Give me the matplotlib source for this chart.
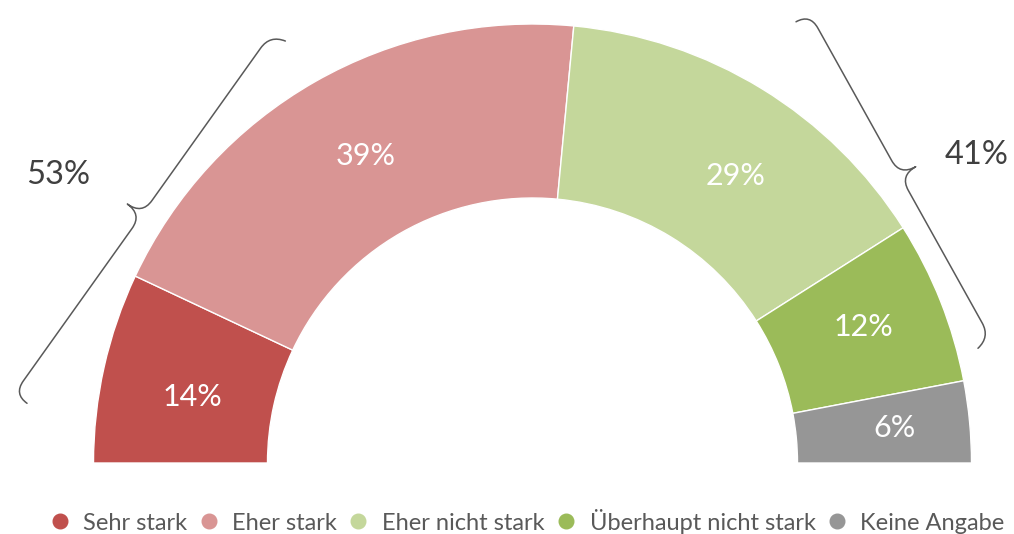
import numpy as np
import matplotlib
matplotlib.use("Agg")
import matplotlib.pyplot as plt
from matplotlib.patches import Wedge, PathPatch
from matplotlib.path import Path
from matplotlib.lines import Line2D

plt.rcParams['font.family'] = ['Lato', 'DejaVu Sans']

# ---- data ----
categories = ["Sehr stark", "Eher stark", "Eher nicht stark", "Überhaupt nicht stark", "Keine Angabe"]
values = [14, 39, 29, 12, 6]
labels = ["14%", "39%", "29%", "12%", "6%"]
colors = ["#C0504D", "#D99594", "#C4D79B", "#9BBB59", "#969696"]
group_labels = ["53%", "41%"]

# ---- layout (pixel-like data units, y up) ----
W, H = 1014, 534
center = np.array([532.5, 71.0])
r_out, r_in = 439.0, 265.0
label_offsets = [(3, -11), (8, 1), (19, -13), (4, 6), (12, 2)]

fig = plt.figure(figsize=(W / 100, H / 100), dpi=100)
ax = fig.add_axes([0, 0, 1, 1])
ax.set_xlim(0, W)
ax.set_ylim(0, H)
ax.set_aspect('equal')
ax.axis('off')

total = float(sum(values))
start = 180.0
for v, lab, col, off in zip(values, labels, colors, label_offsets):
    span = 180.0 * v / total
    t2 = start
    t1 = start - span
    ax.add_patch(Wedge(tuple(center), r_out, t1, t2, width=r_out - r_in,
                       facecolor=col, edgecolor='white', linewidth=1.0))
    mid = np.deg2rad((t1 + t2) / 2)
    rm = (r_out + r_in) / 2
    x = center[0] + rm * np.cos(mid) + off[0]
    y = center[1] + rm * np.sin(mid) + off[1]
    ax.text(x, y, lab, ha='center', va='center', color='white', fontsize=22)
    start = t1


def brace(p1, p2, h=18, r=16, r2=17, color='#595959'):
    p1 = np.asarray(p1, float)
    p2 = np.asarray(p2, float)
    d = p2 - p1
    L = np.hypot(*d)
    u = d / L
    n = np.array([-u[1], u[0]])
    mid = (p1 + p2) / 2
    if np.dot(n, mid - center) < 0:
        n = -n
    loc = [(0, -r), (0, 0), (r, 0), (L / 2 - r2, 0), (L / 2, 0), (L / 2, h),
           (L / 2, 0), (L / 2 + r2, 0), (L - r, 0), (L, 0), (L + 4, -r)]
    codes = [Path.MOVETO, Path.CURVE3, Path.CURVE3, Path.LINETO, Path.CURVE3, Path.CURVE3,
             Path.CURVE3, Path.CURVE3, Path.LINETO, Path.CURVE3, Path.CURVE3]
    pts = [p1 + a * u + b * n for a, b in loc]
    ax.add_patch(PathPatch(Path(pts, codes), facecolor='none', edgecolor=color,
                           linewidth=1.1, capstyle='round', joinstyle='round'))

# left brace (Sehr stark + Eher stark)
brace((14, 140), (270, 499))
ax.text(58, H - 175, group_labels[0], ha='center', va='center', color='#404040', fontsize=23.5)
# right brace (Eher nicht stark + Überhaupt nicht stark)
brace((810, 520), (990, 197))
ax.text(977, H - 155, group_labels[1], ha='center', va='center', color='#404040', fontsize=23.5)

handles = [Line2D([0], [0], marker='o', linestyle='none', markersize=10.5,
                  markerfacecolor=c, markeredgecolor=c) for c in colors]
fig.legend(handles, categories, loc='center', bbox_to_anchor=(0.519, 13 / H), ncol=5,
           frameon=False, fontsize=17, handletextpad=0.5, columnspacing=0.4,
           handlelength=1.0, labelcolor='#595959')

fig.savefig("out.png", dpi=100)
